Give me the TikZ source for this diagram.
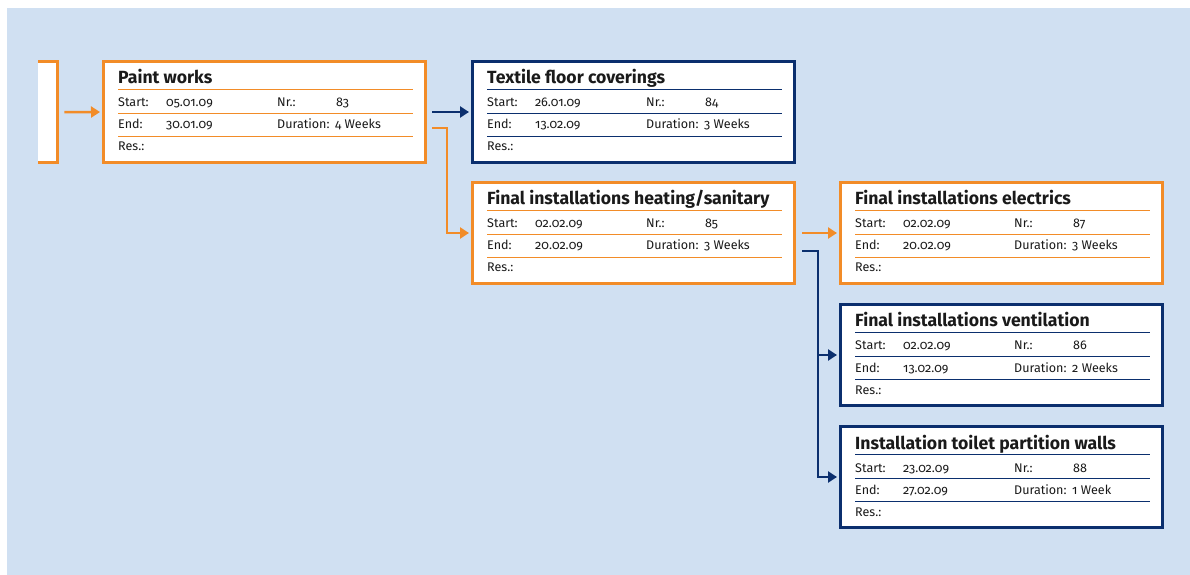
\documentclass[tikz,border=0pt]{standalone}
\usepackage{fontspec}
\setmainfont{Fira Sans}[Numbers=OldStyle]
\usetikzlibrary{arrows.meta}
\definecolor{bgblue}{HTML}{D0E0F2}
\definecolor{orng}{HTML}{F28C28}
\definecolor{navy}{HTML}{0B2F6E}
\definecolor{txt}{HTML}{1A1A1A}
\tikzset{
  taskframe/.style={draw=#1, line width=2.6bp, fill=white, rectangle, inner sep=0pt,
    minimum width=322.4bp, minimum height=101.4bp, anchor=north west},
  rowtxt/.style={anchor=base west, inner sep=0pt, font=\fontsize{12.6}{14}\selectfont, text=txt},
  titletxt/.style={anchor=base west, inner sep=0pt, font=\fontsize{17.7}{19}\selectfont\bfseries, text=txt},
  rulel/.style={draw=#1, line width=0.9bp},
  conn/.style={draw=#1, line width=2.5bp, -{Triangle[length=9bp,width=11bp]}},
}
\newcommand\taskbox[9]{%
  \node[taskframe=#4] (#1) at (#2,#3) {};
  \node[titletxt] (#1-t) at (#2+16,#3+24) {#5};
  \draw[rulel=#4] (#2+16,#3+29.5) -- (#2+311,#3+29.5);
  \node[rowtxt] (#1-sl) at (#2+16,#3+47) {Start:};
  \node[rowtxt] (#1-sv) at (#2+64,#3+47) {#6};
  \node[rowtxt] (#1-nl) at (#2+175,#3+47) {Nr.:};
  \node[rowtxt] (#1-nv) at (#2+234,#3+47) {#7};
  \draw[rulel=#4] (#2+16,#3+53) -- (#2+311,#3+53);
  \node[rowtxt] (#1-el) at (#2+16,#3+69) {End:};
  \node[rowtxt] (#1-ev) at (#2+64,#3+69) {#8};
  \node[rowtxt] (#1-dl) at (#2+175,#3+69) {Duration:};
  \node[rowtxt] (#1-dv) at (#2+233,#3+69) {#9};
  \draw[rulel=#4] (#2+16,#3+76) -- (#2+311,#3+76);
  \node[rowtxt] (#1-rl) at (#2+16,#3+91) {Res.:};
}
\begin{document}
\begin{tikzpicture}[x=1bp,y=-1bp]
\useasboundingbox (0,0) rectangle (1190,575);
\fill[bgblue] (7,8) rectangle (1190,575);
% partial previous box
\node[fill=white, inner sep=0pt, minimum width=21bp, minimum height=104bp, anchor=north west] (prev) at (38,60) {};
\draw[orng, line width=2.6bp] (38,61.3) -- (57.7,61.3) -- (57.7,162.7) -- (38,162.7);
\taskbox{paint}{102}{60}{orng}{Paint works}{05.01.09}{83}{30.01.09}{4 Weeks}
\taskbox{textile}{471}{60}{navy}{Textile floor coverings}{26.01.09}{84}{13.02.09}{3 Weeks}
\taskbox{heat}{471}{181}{orng}{Final installations heating/sanitary}{02.02.09}{85}{20.02.09}{3 Weeks}
\taskbox{elec}{839}{181}{orng}{Final installations electrics}{02.02.09}{87}{20.02.09}{3 Weeks}
\taskbox{vent}{839}{303}{navy}{Final installations ventilation}{02.02.09}{86}{13.02.09}{2 Weeks}
\taskbox{toilet}{839}{425}{navy}{Installation toilet partition walls}{23.02.09}{88}{27.02.09}{1 Week}
% connectors
\draw[conn=orng] ([xshift=5bp]prev.east) -- ([xshift=-2bp]paint.west);
\draw[conn=navy] ([xshift=5bp]paint.east) -- ([xshift=-2bp]textile.west);
\draw[conn=orng] ([xshift=5bp,yshift=-16bp]paint.east) -- ++(15,0) |- ([xshift=-2bp]heat.west);
\draw[conn=orng] ([xshift=6bp]heat.east) -- ([xshift=-2bp]elec.west);
\coordinate (hv) at ([xshift=6bp,yshift=-18bp]heat.east);
\draw[conn=navy] (hv) -- ++(16,0) coordinate (hb) |- ([xshift=-2bp]vent.west);
\draw[conn=navy] (hb) |- ([xshift=-2bp]toilet.west);
\end{tikzpicture}
\end{document}
